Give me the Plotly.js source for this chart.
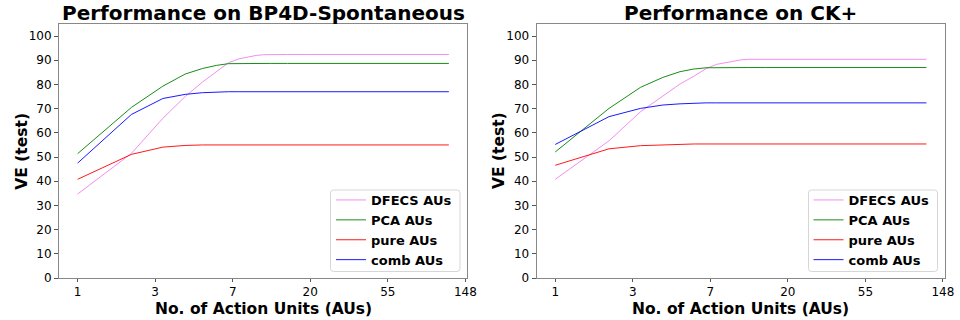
<!DOCTYPE html>
<html>
<head>
<meta charset="utf-8">
<script src="https://cdn.plot.ly/plotly-3.0.1.min.js"></script>
<style>html,body{margin:0;padding:0;background:#fff;}#chart{width:960px;height:320px;}</style>
</head>
<body>
<div id="chart"></div>
<script>
// Number of action units (x)
const nAUs = [1, 2, 3, 4, 5, 6, 7, 8, 9, 10, 11, 12, 15, 20, 30, 50, 80, 120];

// BP4D-Spontaneous
const bp4dDFECS = [34.7, 51.5, 66.0, 75.0, 81.0, 85.3, 89.0, 90.6, 91.5, 92.0, 92.3, 92.4, 92.4, 92.4, 92.4, 92.4, 92.4, 92.4];
const bp4dPCA   = [51.4, 70.5, 79.3, 84.3, 86.6, 87.9, 88.6, 88.7, 88.7, 88.7, 88.7, 88.7, 88.7, 88.7, 88.7, 88.7, 88.7, 88.7];
const bp4dPure  = [40.8, 51.1, 54.1, 54.8, 55.0, 55.0, 55.0, 55.0, 55.0, 55.0, 55.0, 55.0, 55.0, 55.0, 55.0, 55.0, 55.0, 55.0];
const bp4dComb  = [47.5, 67.6, 74.2, 75.9, 76.6, 76.9, 77.0, 77.0, 77.0, 77.0, 77.0, 77.0, 77.0, 77.0, 77.0, 77.0, 77.0, 77.0];

// CK+
const ckDFECS = [40.8, 56.7, 68.7, 75.2, 80.2, 83.5, 86.6, 88.3, 89.1, 89.8, 90.2, 90.4, 90.4, 90.4, 90.4, 90.4, 90.4, 90.4];
const ckPCA   = [52.1, 70.1, 78.8, 82.9, 85.3, 86.4, 86.9, 87.0, 87.0, 87.0, 87.0, 87.0, 87.0, 87.0, 87.0, 87.0, 87.0, 87.0];
const ckPure  = [46.6, 53.4, 54.7, 55.1, 55.3, 55.4, 55.4, 55.4, 55.4, 55.4, 55.4, 55.4, 55.4, 55.4, 55.4, 55.4, 55.4, 55.4];
const ckComb  = [55.2, 66.7, 70.1, 71.5, 72.0, 72.3, 72.4, 72.4, 72.4, 72.4, 72.4, 72.4, 72.4, 72.4, 72.4, 72.4, 72.4, 72.4];

const seriesNames = ['DFECS AUs', 'PCA AUs', 'pure AUs', 'comb AUs'];
const seriesColors = ['violet', 'green', 'red', 'blue'];

const xTickText = ['1', '3', '7', '20', '55', '148'];
const xTickVals = [0, 1, 2, 3, 4, 5].map(k => Math.exp(k));
const yTickVals = [0, 10, 20, 30, 40, 50, 60, 70, 80, 90, 100];

const panelTitles = ['Performance on BP4D-Spontaneous', 'Performance on CK+'];
const xTitle = 'No. of Action Units (AUs)';
const yTitle = 'VE (test)';

const FONT = 'DejaVu Sans';
const W = 960, H = 320;
const left = [bp4dDFECS, bp4dPCA, bp4dPure, bp4dComb];
const right = [ckDFECS, ckPCA, ckPure, ckComb];

const traces = [];
left.forEach((ys, i) => traces.push({
  x: nAUs, y: ys, type: 'scatter', mode: 'lines', name: seriesNames[i],
  line: {color: seriesColors[i], width: 1}, opacity: 0.9, xaxis: 'x', yaxis: 'y', legend: 'legend'
}));
right.forEach((ys, i) => traces.push({
  x: nAUs, y: ys, type: 'scatter', mode: 'lines', name: seriesNames[i],
  line: {color: seriesColors[i], width: 1}, opacity: 0.9, xaxis: 'x2', yaxis: 'y2', legend: 'legend2'
}));

function xAxis(domain) {
  return {
    domain: domain, type: 'log', range: [-0.1042, 2.181],
    tickvals: xTickVals, ticktext: xTickText,
    ticks: 'outside', ticklen: 3, tickcolor: '#555', tickwidth: 1,
    showline: true, linecolor: '#888', linewidth: 1, mirror: true,
    showgrid: false, zeroline: false,
    tickfont: {family: FONT, size: 12, color: '#000'},
    automargin: false
  };
}
function yAxis(anchor) {
  return {
    anchor: anchor, domain: [0.13125, 0.925], range: [0, 105],
    tickvals: yTickVals,
    ticks: 'outside', ticklen: 4, tickcolor: '#555', tickwidth: 1,
    showline: true, linecolor: '#888', linewidth: 1, mirror: true,
    showgrid: false, zeroline: false,
    tickfont: {family: FONT, size: 12, color: '#000'},
    automargin: false
  };
}

const legendStyle = {
  bgcolor: 'rgba(0,0,0,0)', borderwidth: 0,
  font: {family: FONT, size: 13, color: '#000', weight: 'bold'},
  xref: 'paper', yref: 'paper', xanchor: 'left', yanchor: 'top', y: (H - 185) / H,
  tracegroupgap: 0
};

// rounded legend frame in pixel terms, converted to paper units
function roundRect(x0, y0, x1, y1, r) {
  const px = v => (v / W).toFixed(5), py = v => ((H - v) / H).toFixed(5);
  return `M${px(x0 + r)},${py(y0)} L${px(x1 - r)},${py(y0)} Q${px(x1)},${py(y0)} ${px(x1)},${py(y0 + r)} ` +
         `L${px(x1)},${py(y1 - r)} Q${px(x1)},${py(y1)} ${px(x1 - r)},${py(y1)} ` +
         `L${px(x0 + r)},${py(y1)} Q${px(x0)},${py(y1)} ${px(x0)},${py(y1 - r)} ` +
         `L${px(x0)},${py(y0 + r)} Q${px(x0)},${py(y0)} ${px(x0 + r)},${py(y0)} Z`;
}

const titleFont = {family: FONT, size: 20, color: '#000', weight: 'bold'};
const axisTitleFont = {family: FONT, size: 15.5, color: '#000', weight: 'bold'};
function ann(text, x, y, font, angle) {
  return {text: text, x: x, y: y, xref: 'paper', yref: 'paper', xanchor: 'center', yanchor: 'middle',
          showarrow: false, font: font, textangle: angle || 0};
}

const layout = {
  width: W, height: H,
  margin: {l: 0, r: 0, t: 0, b: 0},
  paper_bgcolor: '#fff', plot_bgcolor: '#fff',
  showlegend: true,
  xaxis: Object.assign(xAxis([0.0615, 0.4865]), {anchor: 'y'}),
  yaxis: yAxis('x'),
  xaxis2: Object.assign(xAxis([0.559, 0.984]), {anchor: 'y2'}),
  yaxis2: yAxis('x2'),
  legend: Object.assign({}, legendStyle, {x: 331 / W}),
  legend2: Object.assign({}, legendStyle, {x: 808.5 / W}),
  shapes: [
    {type: 'path', xref: 'paper', yref: 'paper', path: roundRect(330.5, 190, 460, 271.5, 3),
     line: {color: '#d6d6d6', width: 1}, fillcolor: 'rgba(255,255,255,0.8)', layer: 'above'},
    {type: 'path', xref: 'paper', yref: 'paper', path: roundRect(808.5, 190, 937.5, 271.5, 3),
     line: {color: '#d6d6d6', width: 1}, fillcolor: 'rgba(255,255,255,0.8)', layer: 'above'}
  ],
  annotations: [
    ann(panelTitles[0], 0.274, 0.959, titleFont),
    ann(panelTitles[1], 0.7715, 0.959, titleFont),
    ann(xTitle, 0.274, (H - 308.5) / H, axisTitleFont),
    ann(xTitle, 0.7715, (H - 308.5) / H, axisTitleFont),
    ann(yTitle, 21.7 / W, (H - 151) / H, axisTitleFont, -90),
    ann(yTitle, 499 / W, (H - 151) / H, axisTitleFont, -90)
  ]
};

Plotly.newPlot('chart', traces, layout, {displayModeBar: false, staticPlot: true});
</script>
</body>
</html>
